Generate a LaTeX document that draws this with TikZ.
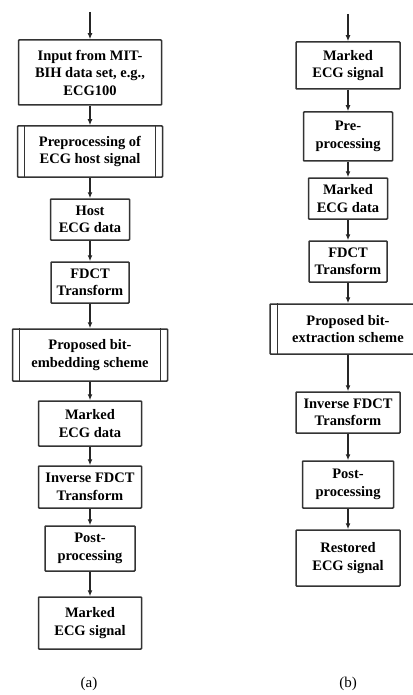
\documentclass[tikz,border=0pt]{standalone}
\usepackage{fontspec}
\setmainfont{Liberation Serif}
\usetikzlibrary{arrows.meta}
\begin{document}
\begin{tikzpicture}[x=1pt,y=-1pt,
    stepbox/.style={draw=black!80,line width=1.5pt,rounded corners=0.8pt,fill=white,align=center,
        inner sep=0pt,font=\fontsize{14.5}{17.5}\selectfont\bfseries},
    flow/.style={draw=black!85,line width=1.3pt,-{Latex[length=6pt,width=5pt]}},
    sub/.style={font=\fontsize{15}{18}\selectfont}]
    \useasboundingbox (0,0) rectangle (412,695);

    \node [stepbox,minimum width=143,minimum height=65] (a1) at (90,72.5) {Input from MIT-\\BIH data set, e.g.,\\ECG100};
    \node [stepbox,minimum width=145,minimum height=51] (a2) at (90,151.5) {Preprocessing of\\ECG host signal};
    \node [stepbox,minimum width=79,minimum height=41] (a3) at (90,219.5) {Host\\ECG data};
    \node [stepbox,minimum width=78,minimum height=41] (a4) at (90,282.5) {FDCT\\Transform};
    \node [stepbox,minimum width=155,minimum height=52] (a5) at (90,355) {Proposed bit-\\embedding scheme};
    \node [stepbox,minimum width=103,minimum height=45] (a6) at (90,423.5) {Marked\\ECG data};
    \node [stepbox,minimum width=103,minimum height=42] (a7) at (90,487) {Inverse FDCT\\Transform};
    \node [stepbox,minimum width=90,minimum height=45] (a8) at (90,548.5) {Post-\\processing};
    \node [stepbox,minimum width=103,minimum height=52] (a9) at (90,623) {Marked\\ECG signal};
    \draw [draw=black!80,line width=1.3pt] ([xshift=8]a2.north west) -- ([xshift=8]a2.south west);
    \draw [draw=black!80,line width=1.3pt] ([xshift=-8]a2.north east) -- ([xshift=-8]a2.south east);
    \draw [draw=black!80,line width=1.3pt] ([xshift=7.5]a5.north west) -- ([xshift=7.5]a5.south west);
    \draw [draw=black!80,line width=1.3pt] ([xshift=-7.5]a5.north east) -- ([xshift=-7.5]a5.south east);

    \coordinate (ain) at (90,12);
    \draw [flow] (ain) -- (a1);
    \draw [flow] (a1) -- (a2);
    \draw [flow] (a2) -- (a3);
    \draw [flow] (a3) -- (a4);
    \draw [flow] (a4) -- (a5);
    \draw [flow] (a5) -- (a6);
    \draw [flow] (a6) -- (a7);
    \draw [flow] (a7) -- (a8);
    \draw [flow] (a8) -- (a9);
    \node [sub] (la) at (89,684) {(a)};

    \node [stepbox,minimum width=104,minimum height=47] (b1) at (348,65.5) {Marked\\ECG signal};
    \node [stepbox,minimum width=89,minimum height=49] (b2) at (348,136.5) {Pre-\\processing};
    \node [stepbox,minimum width=79,minimum height=41] (b3) at (348,198.5) {Marked\\ECG data};
    \node [stepbox,minimum width=78,minimum height=41] (b4) at (348,261.5) {FDCT\\Transform};
    \node [stepbox,minimum width=156,minimum height=50] (b5) at (348,329) {Proposed bit-\\extraction scheme};
    \node [stepbox,minimum width=104,minimum height=41] (b6) at (348,412.5) {Inverse FDCT\\Transform};
    \node [stepbox,minimum width=91,minimum height=47] (b7) at (348,484.5) {Post-\\processing};
    \node [stepbox,minimum width=104,minimum height=56] (b8) at (348,558) {Restored\\ECG signal};
    \draw [draw=black!80,line width=1.3pt] ([xshift=8]b5.north west) -- ([xshift=8]b5.south west);
    \draw [draw=black!80,line width=1.3pt] ([xshift=-8]b5.north east) -- ([xshift=-8]b5.south east);

    \coordinate (bin) at (348,14);
    \draw [flow] (bin) -- (b1);
    \draw [flow] (b1) -- (b2);
    \draw [flow] (b2) -- (b3);
    \draw [flow] (b3) -- (b4);
    \draw [flow] (b4) -- (b5);
    \draw [flow] (b5) -- (b6);
    \draw [flow] (b6) -- (b7);
    \draw [flow] (b7) -- (b8);
    \node [sub] (lb) at (348,684) {(b)};
\end{tikzpicture}
\end{document}
